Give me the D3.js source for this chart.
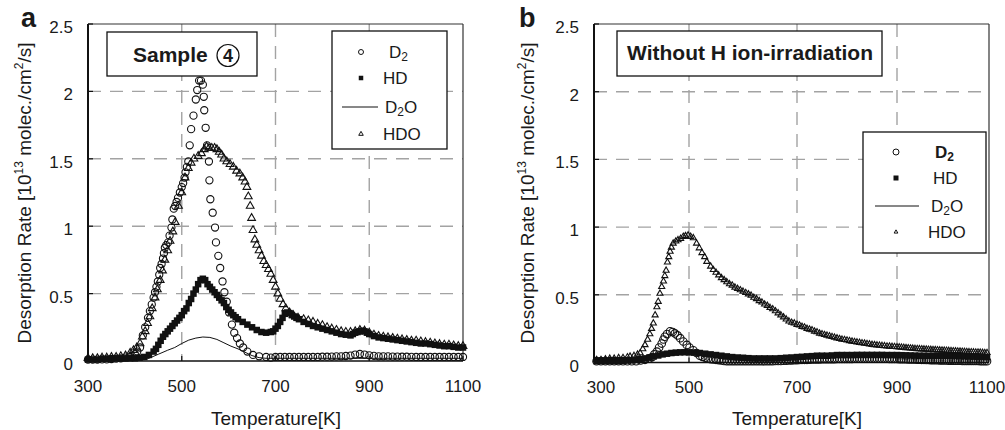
<!DOCTYPE html>
<html><head><meta charset="utf-8">
<script src="https://cdn.jsdelivr.net/npm/d3@7"></script>
<style>
body{margin:0;background:#fff}
svg{display:block}
text{font-family:"Liberation Sans",Arial,Helvetica,sans-serif;fill:#1a1a1a}
</style>
</head><body>
<svg id="c" width="1005" height="430"></svg>
<script>
// ---------- DATA ----------
const xTicks = [300, 500, 700, 900, 1100];
const xTickLabels = ["300", "500", "700", "900", "1100"];
const yTicks = [0, 0.5, 1, 1.5, 2, 2.5];
const yTickLabels = ["0", "0.5", "1", "1.5", "2", "2.5"];
const seriesNames = ["D2", "HD", "D2O", "HDO"];
const titleA = "Sample";
const titleAMark = "4";
const titleB = "Without H ion-irradiation";
const xTitle = "Temperature[K]";

// Panel a : [temperature K, rate 1e13 molec/cm2/s]
const aD2 = [[300,.01],[310,.01],[320,.01],[330,.012],[340,.012],[350,.015],[360,.018],[370,.02],[380,.025],[390,.03],[400,.05],[405,.07],[411,.10],[417,.19],[422,.25],[428,.32],[432,.37],[436,.42],[440,.47],[443,.51],[446,.55],[449,.59],[452,.64],[454,.69],[457,.72],[460,.76],[462,.80],[464,.84],[467,.86],[471,.88],[474,.93],[478,.99],[480,1.05],[483,1.13],[486,1.15],[489,1.18],[492,1.21],[496,1.25],[500,1.29],[503,1.32],[506,1.36],[508,1.40],[511,1.44],[514,1.48],[517,1.60],[520,1.72],[525,1.82],[530,1.94],[533,2.01],[537,2.08],[541,2.08],[545,2.05],[547,1.96],[548,1.86],[551,1.73],[554,1.60],[558,1.48],[559,1.34],[561,1.20],[566,1.10],[571,0.99],[573,0.88],[578,0.78],[582,0.69],[587,0.59],[591,0.51],[596,0.44],[601,0.36],[607,0.27],[612,0.21],[618,0.17],[624,0.13],[631,0.10],[640,0.07],[652,0.045],[665,0.035],[680,0.03],[690,0.025],[700,.03],[710,.03],[720,.03],[730,.03],[740,.03],[750,.03],[760,.03],[770,.03],[780,.03],[790,.03],[800,.032],[810,.032],[820,.033],[830,.034],[840,.035],[850,.037],[860,.04],[870,.048],[880,.052],[890,.048],[900,.042],[910,.038],[920,.035],[930,.035],[940,.034],[950,.033],[960,.033],[970,.032],[980,.032],[990,.031],[1000,.03],[1010,.03],[1020,.03],[1030,.03],[1040,.03],[1050,.03],[1060,.03],[1070,.03],[1080,.03],[1090,.03],[1100,.03]];

const aHD = [[300,.01],[310,.01],[320,.01],[330,.015],[340,.015],[350,.015],[360,.02],[370,.02],[380,.02],[390,.02],[400,.02],[410,.025],[420,.03],[430,.045],[440,.07],[445,.09],[450,.12],[455,.15],[460,.18],[465,.20],[470,.22],[475,.24],[480,.26],[485,.28],[490,.30],[495,.32],[500,.34],[505,.37],[510,.39],[515,.43],[520,.46],[525,.50],[530,.53],[535,.57],[540,.60],[545,.61],[550,.60],[555,.57],[560,.55],[565,.53],[570,.51],[575,.49],[580,.47],[585,.45],[590,.43],[595,.40],[600,.38],[605,.36],[610,.34],[615,.325],[620,.31],[630,.29],[640,.27],[650,.25],[660,.23],[670,.215],[680,.21],[690,.215],[695,.22],[700,.24],[705,.26],[710,.29],[715,.32],[720,.35],[725,.36],[730,.355],[735,.34],[740,.33],[745,.32],[750,.31],[760,.29],[770,.275],[780,.26],[790,.25],[800,.24],[810,.23],[820,.22],[830,.21],[840,.20],[850,.195],[860,.19],[865,.20],[870,.21],[875,.215],[880,.22],[885,.225],[890,.22],[895,.21],[900,.20],[910,.185],[920,.175],[930,.17],[940,.165],[950,.16],[960,.155],[970,.15],[980,.145],[990,.14],[1000,.135],[1010,.13],[1020,.13],[1030,.125],[1040,.12],[1050,.115],[1060,.11],[1070,.11],[1080,.105],[1090,.10],[1100,.10]];

const aD2O = [[300,.005],[350,.005],[400,.005],[420,.01],[430,.02],[450,.05],[470,.08],[485,.10],[500,.13],[515,.155],[530,.17],[545,.178],[560,.175],[575,.16],[590,.135],[605,.11],[620,.09],[635,.065],[650,.04],[665,.025],[680,.02],[750,.02],[850,.02],[950,.02],[1050,.02],[1100,.02]];

const aHDO = [[300,.02],[310,.02],[320,.02],[330,.025],[340,.025],[350,.03],[360,.03],[370,.035],[380,.04],[390,.06],[397,.08],[404,.10],[411,.13],[416,.18],[422,.22],[427,.28],[432,.33],[437,.39],[443,.47],[448,.53],[454,.60],[459,.67],[464,.75],[470,.82],[475,.89],[481,.96],[486,1.03],[493,1.15],[500,1.25],[507,1.36],[514,1.43],[520,1.47],[526,1.50],[535,1.52],[542,1.54],[548,1.57],[553,1.59],[558,1.58],[564,1.58],[570,1.58],[575,1.57],[580,1.55],[585,1.53],[590,1.50],[596,1.48],[603,1.46],[610,1.44],[617,1.41],[624,1.39],[630,1.36],[635,1.33],[639,1.29],[642,1.22],[646,1.15],[649,1.06],[652,0.97],[656,0.90],[660,0.86],[665,0.82],[670,0.78],[675,0.74],[680,0.71],[685,0.68],[690,0.645],[695,0.60],[700,0.55],[705,0.50],[710,0.46],[716,0.42],[722,0.39],[730,0.36],[738,0.34],[748,0.32],[760,0.31],[770,0.30],[780,0.29],[790,0.275],[800,0.265],[810,0.25],[820,0.24],[830,0.23],[840,0.22],[850,0.215],[860,0.215],[870,0.22],[880,0.23],[890,0.225],[900,0.21],[910,0.195],[920,0.185],[930,0.18],[940,0.175],[950,0.17],[960,0.165],[970,0.16],[980,0.155],[990,0.15],[1000,0.15],[1010,0.145],[1020,0.14],[1030,0.135],[1040,0.13],[1050,0.125],[1060,0.12],[1070,0.12],[1080,0.115],[1090,0.11],[1100,0.11]];

// Panel b
const bD2 = [[290,.01],[300,.01],[310,.01],[320,.01],[330,.01],[340,.01],[350,.01],[360,.01],[370,.01],[380,.01],[390,.015],[400,.02],[410,.03],[416,.04],[421,.06],[427,.08],[432,.11],[438,.14],[442,.17],[445,.19],[450,.21],[457,.23],[463,.225],[468,.215],[474,.20],[480,.18],[487,.155],[495,.13],[501,.11],[508,.09],[514,.07],[520,.05],[525,.042],[530,.035],[535,.03],[540,.025],[545,.022],[550,.02],[555,.018],[560,.015],[565,.012],[570,.01],[575,.01],[580,.01],[585,.01],[590,.01],[595,.01],[600,.01],[605,.01],[610,.01],[615,.01],[620,.01],[625,.01],[630,.01],[635,.01],[640,.01],[645,.01],[650,.01],[655,.01],[660,.011],[665,.012],[670,.012],[675,.013],[680,.014],[685,.015],[690,.016],[695,.017],[700,.018],[705,.019],[710,.02],[715,.02],[720,.02],[725,.021],[730,.022],[735,.022],[740,.022],[745,.023],[750,.024],[755,.024],[760,.024],[765,.025],[770,.025],[775,.025],[780,.026],[785,.026],[790,.026],[795,.027],[800,.027],[805,.027],[810,.027],[815,.028],[820,.028],[825,.028],[830,.028],[835,.028],[840,.028],[845,.028],[850,.028],[855,.028],[860,.028],[865,.028],[870,.028],[875,.028],[880,.028],[885,.027],[890,.027],[895,.026],[900,.026],[905,.025],[910,.025],[915,.024],[920,.024],[925,.023],[930,.023],[935,.022],[940,.022],[945,.021],[950,.021],[955,.02],[960,.02],[965,.019],[970,.019],[975,.018],[980,.018],[985,.017],[990,.017],[995,.016],[1000,.016],[1005,.015],[1010,.015],[1015,.014],[1020,.014],[1025,.013],[1030,.013],[1035,.013],[1040,.013],[1045,.012],[1050,.012],[1055,.012],[1060,.012],[1065,.011],[1070,.011],[1075,.011],[1080,.011],[1085,.01],[1090,.01],[1095,.01],[1100,.01]];

const bHD = [[290,.01],[300,.01],[310,.01],[320,.01],[330,.01],[340,.01],[350,.012],[360,.015],[370,.017],[380,.02],[390,.025],[400,.03],[410,.037],[420,.045],[430,.052],[440,.06],[450,.065],[460,.07],[470,.073],[480,.075],[490,.076],[500,.075],[510,.073],[520,.07],[530,.065],[540,.06],[550,.055],[560,.05],[570,.045],[580,.04],[590,.037],[600,.035],[610,.032],[620,.03],[630,.03],[640,.03],[650,.03],[660,.03],[670,.032],[680,.035],[690,.037],[700,.04],[710,.042],[720,.045],[730,.047],[740,.05],[750,.05],[760,.05],[770,.052],[780,.055],[790,.055],[800,.055],[810,.055],[820,.056],[830,.056],[840,.056],[850,.056],[860,.056],[870,.056],[880,.055],[890,.055],[900,.055],[910,.054],[920,.053],[930,.052],[940,.051],[950,.05],[960,.05],[970,.05],[980,.05],[990,.05],[1000,.05],[1010,.049],[1020,.048],[1030,.047],[1040,.046],[1050,.045],[1060,.044],[1070,.043],[1080,.042],[1090,.041],[1100,.04]];

const bD2O = [[290,.005],[350,.008],[400,.02],[450,.05],[480,.06],[520,.055],[560,.04],[600,.03],[650,.03],[700,.035],[800,.045],[900,.045],[1000,.04],[1100,.035]];

const bHDO = [[290,.02],[300,.02],[310,.025],[320,.03],[330,.03],[340,.035],[350,.035],[360,.04],[366,.045],[375,.05],[383,.06],[389,.07],[395,.10],[400,.13],[406,.17],[411,.21],[415,.25],[419,.29],[423,.35],[427,.41],[430,.45],[434,.51],[438,.56],[442,.60],[445,.64],[448,.68],[451,.74],[454,.78],[457,.82],[460,.85],[464,.88],[470,.895],[475,.905],[481,.915],[487,.93],[492,.935],[498,.94],[503,.93],[508,.92],[514,.88],[519,.845],[524,.81],[529,.78],[533,.745],[540,.71],[545,.685],[550,.665],[555,.645],[560,.625],[565,.61],[570,.595],[575,.58],[580,.57],[585,.555],[590,.545],[595,.535],[600,.525],[605,.515],[610,.505],[615,.495],[620,.48],[625,.47],[630,.455],[635,.445],[640,.43],[645,.42],[650,.405],[655,.395],[660,.38],[665,.365],[670,.35],[675,.335],[680,.32],[685,.305],[690,.295],[695,.29],[700,.28],[705,.275],[710,.265],[715,.26],[720,.25],[725,.245],[730,.24],[735,.23],[740,.225],[745,.215],[750,.21],[755,.205],[760,.2],[765,.195],[770,.19],[775,.185],[780,.18],[785,.175],[790,.17],[795,.168],[800,.164],[805,.16],[810,.156],[815,.153],[820,.15],[825,.147],[830,.144],[835,.141],[840,.138],[845,.135],[850,.132],[855,.13],[860,.128],[865,.126],[870,.124],[875,.122],[880,.12],[885,.119],[890,.117],[895,.116],[900,.114],[905,.113],[910,.111],[915,.11],[920,.108],[925,.107],[930,.105],[935,.104],[940,.102],[945,.101],[950,.1],[955,.099],[960,.098],[965,.097],[970,.096],[975,.095],[980,.094],[985,.093],[990,.092],[995,.091],[1000,.09],[1005,.089],[1010,.088],[1015,.087],[1020,.086],[1025,.085],[1030,.084],[1035,.083],[1040,.082],[1045,.081],[1050,.08],[1055,.079],[1060,.078],[1065,.077],[1070,.076],[1075,.075],[1080,.075],[1085,.074],[1090,.073],[1095,.072],[1100,.072]];

// ---------- DRAW ----------
const svg = d3.select("#c");
const GRID = "#a3a3a3";

function drawPanel(cfg) {
  const g = svg.append("g");
  const x = cfg.x, y = cfg.y;
  const [L, R] = [cfg.left, cfg.right];
  const [T, B] = [cfg.top, cfg.bottom];

  // grid
  g.selectAll(".gy").data(yTicks.filter(v => v > 0 && v < 2.5)).join("line")
    .attr("x1", L).attr("x2", R).attr("y1", d => y(d)).attr("y2", d => y(d))
    .attr("stroke", GRID).attr("stroke-width", 1.4).attr("stroke-dasharray", "13,9");
  g.selectAll(".gx").data(xTicks.filter(v => v > 300 && v < 1100)).join("line")
    .attr("y1", T).attr("y2", B).attr("x1", d => x(d)).attr("x2", d => x(d))
    .attr("stroke", GRID).attr("stroke-width", 1.4).attr("stroke-dasharray", "13,9");

  // frame
  g.append("line").attr("x1", L).attr("x2", R).attr("y1", T).attr("y2", T).attr("stroke", "#333").attr("stroke-width", 1.2);
  g.append("line").attr("x1", R).attr("x2", R).attr("y1", T).attr("y2", B).attr("stroke", "#333").attr("stroke-width", 1.2);
  g.append("line").attr("x1", L).attr("x2", R).attr("y1", B).attr("y2", B).attr("stroke", "#111").attr("stroke-width", 1.5);
  g.append("line").attr("x1", L).attr("x2", L).attr("y1", T).attr("y2", B).attr("stroke", "#111").attr("stroke-width", 2);

  // inward ticks
  g.selectAll(".ty").data(yTicks).join("line")
    .attr("x1", L).attr("x2", L + 5).attr("y1", d => y(d)).attr("y2", d => y(d)).attr("stroke", "#111").attr("stroke-width", 1.2);
  g.selectAll(".tx").data(xTicks).join("line")
    .attr("y1", B).attr("y2", B - 5).attr("x1", d => x(d)).attr("x2", d => x(d)).attr("stroke", "#111").attr("stroke-width", 1.2);

  // tick labels
  g.selectAll(".ly").data(yTicks).join("text")
    .attr("x", L - 15).attr("y", d => y(d) + 9).attr("text-anchor", "end")
    .attr("font-size", 17).text((d, i) => yTickLabels[i]);
  g.selectAll(".lx").data(xTicks).join("text")
    .attr("x", d => x(d)).attr("y", cfg.tickLabelY).attr("text-anchor", "middle")
    .attr("font-size", 17).text((d, i) => xTickLabels[i]);

  // axis titles
  g.append("text").attr("x", cfg.xTitleX).attr("y", 425).attr("text-anchor", "middle")
    .attr("font-size", 19).text(xTitle);
  const yt = g.append("text").attr("transform", `translate(${cfg.yTitleX},${cfg.yTitleY}) rotate(-90)`)
    .attr("text-anchor", "middle").attr("font-size", 19);
  yt.append("tspan").text("Desorption Rate [10");
  yt.append("tspan").attr("font-size", 12).attr("dy", -8).text("13");
  yt.append("tspan").attr("dy", 8).text(" molec./cm");
  yt.append("tspan").attr("font-size", 12).attr("dy", -8).text("2");
  yt.append("tspan").attr("dy", 8).text("/s]");

  // panel letter
  g.append("text").attr("x", cfg.letterX).attr("y", 27).attr("font-size", 27)
    .attr("font-weight", "bold").text(cfg.letter);

  // data
  const line = d3.line().x(d => x(d[0])).y(d => y(d[1]));
  g.append("g").selectAll("circle").data(cfg.d2).join("circle")
    .attr("cx", d => x(d[0])).attr("cy", d => y(d[1])).attr("r", cfg.circleR)
    .attr("fill", "none").attr("stroke", "#111").attr("stroke-width", 1.1);
  const sq = cfg.square;
  g.append("g").selectAll("rect").data(cfg.hd).join("rect")
    .attr("x", d => x(d[0]) - sq / 2).attr("y", d => y(d[1]) - sq / 2)
    .attr("width", sq).attr("height", sq).attr("fill", "#111");
  g.append("path").datum(cfg.d2o).attr("d", line).attr("fill", "none")
    .attr("stroke", "#111").attr("stroke-width", 1);
  const tri = d3.symbol(d3.symbolTriangle, cfg.triArea);
  g.append("g").selectAll("path").data(cfg.hdo).join("path")
    .attr("d", tri).attr("transform", d => `translate(${x(d[0])},${y(d[1])})`)
    .attr("fill", "none").attr("stroke", "#111").attr("stroke-width", 1.1);

  // title box
  const tb = cfg.titleBox;
  g.append("rect").attr("x", tb[0]).attr("y", tb[1]).attr("width", tb[2]).attr("height", tb[3])
    .attr("fill", "#fff").attr("stroke", "#111").attr("stroke-width", 1.3);
  cfg.drawTitle(g);

  // legend
  const lb = cfg.legendBox;
  g.append("rect").attr("x", lb[0]).attr("y", lb[1]).attr("width", lb[2]).attr("height", lb[3])
    .attr("fill", "#fff").attr("stroke", "#111").attr("stroke-width", 1.3);
  const ly = cfg.legendY, sx = cfg.legendSymX, tx = cfg.legendTextX;
  g.append("circle").attr("cx", sx).attr("cy", ly[0]).attr("r", cfg.legCircleR)
    .attr("fill", "none").attr("stroke", "#111").attr("stroke-width", 1);
  g.append("rect").attr("x", sx - cfg.legSq / 2).attr("y", ly[1] - cfg.legSq / 2)
    .attr("width", cfg.legSq).attr("height", cfg.legSq).attr("fill", "#111");
  g.append("line").attr("x1", cfg.legLine[0]).attr("x2", cfg.legLine[1]).attr("y1", ly[2]).attr("y2", ly[2])
    .attr("stroke", "#111").attr("stroke-width", 1);
  g.append("path").attr("d", d3.symbol(d3.symbolTriangle, cfg.legTriArea)())
    .attr("transform", `translate(${sx},${ly[3]})`).attr("fill", "none").attr("stroke", "#111").attr("stroke-width", 1);

  const t0 = g.append("text").attr("x", tx[0]).attr("y", ly[0] + 6).attr("font-size", 17)
    .attr("font-weight", cfg.d2Bold ? "bold" : "normal");
  t0.append("tspan").text("D");
  t0.append("tspan").attr("font-size", 12).attr("dy", 3).text("2");
  g.append("text").attr("x", tx[1]).attr("y", ly[1] + 6).attr("font-size", 17).text("HD");
  const t2 = g.append("text").attr("x", tx[2]).attr("y", ly[2] + 6).attr("font-size", 17);
  t2.append("tspan").text("D");
  t2.append("tspan").attr("font-size", 12).attr("dy", 3).text("2");
  t2.append("tspan").attr("dy", -3).text("O");
  g.append("text").attr("x", tx[3]).attr("y", ly[3] + 6).attr("font-size", 17).text("HDO");
}

const yA = d3.scaleLinear().domain([0, 2.5]).range([361, 24]);
const xA = d3.scaleLinear().domain([300, 1100]).range([88, 463]);
drawPanel({
  x: xA, y: yA, left: 88, right: 463, top: 24, bottom: 361,
  tickLabelY: 392, xTitleX: 276, yTitleX: 31, yTitleY: 193,
  letter: "a", letterX: 21,
  d2: aD2, hd: aHD, d2o: aD2O, hdo: aHDO,
  circleR: 3.6, square: 6.5, triArea: 26,
  titleBox: [107, 32, 150, 44],
  drawTitle: g => {
    g.append("text").attr("x", 133).attr("y", 62).attr("font-size", 21).attr("font-weight", "bold").text(titleA);
    g.append("circle").attr("cx", 228).attr("cy", 55.5).attr("r", 11).attr("fill", "none").attr("stroke", "#111").attr("stroke-width", 1.2);
    g.append("text").attr("x", 228).attr("y", 62).attr("text-anchor", "middle").attr("font-size", 18).attr("font-weight", "bold").text(titleAMark);
  },
  legendBox: [332, 31, 115, 118], legendY: [52, 78, 107, 134], legendSymX: 361,
  legendTextX: [389, 383, 385, 383], legLine: [342, 378],
  legCircleR: 2.5, legSq: 4.5, legTriArea: 9, d2Bold: false
});

const yB = d3.scaleLinear().domain([0, 2.5]).range([362.5, 24]);
const xB = d3.scaleLinear().domain(xTicks).range([601, 689, 797, 897, 987]);
drawPanel({
  x: xB, y: yB, left: 594, right: 989, top: 24, bottom: 362.5,
  tickLabelY: 393, xTitleX: 797, yTitleX: 534, yTitleY: 193,
  letter: "b", letterX: 519,
  d2: bD2, hd: bHD, d2o: bD2O, hdo: bHDO,
  circleR: 3.8, square: 6.5, triArea: 16,
  titleBox: [617, 31, 265, 45],
  drawTitle: g => {
    g.append("text").attr("x", 750).attr("y", 60).attr("text-anchor", "middle").attr("font-size", 21).attr("font-weight", "bold").text(titleB);
  },
  legendBox: [863, 132, 123, 121], legendY: [152, 178, 206, 232], legendSymX: 896,
  legendTextX: [935, 933, 931, 928], legLine: [875, 919],
  legCircleR: 3, legSq: 5, legTriArea: 6, d2Bold: true
});
</script>
</body></html>
